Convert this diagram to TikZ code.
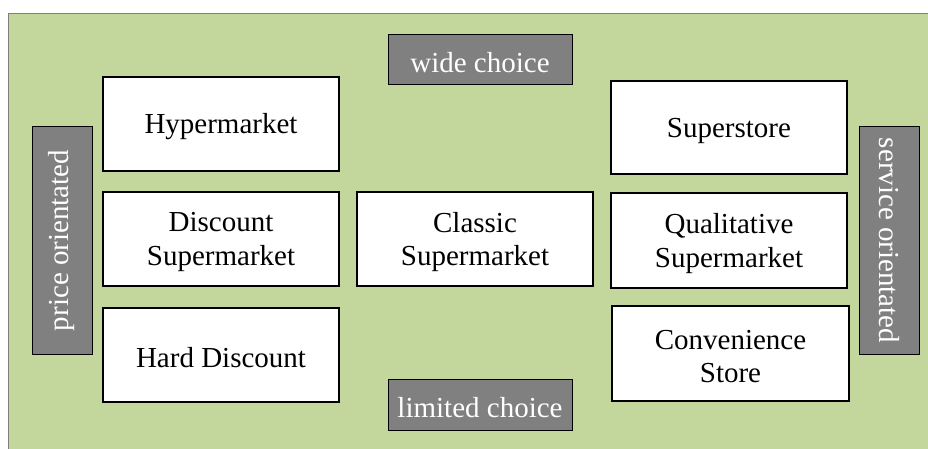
\documentclass[tikz,border=0pt]{standalone}
\usepackage{fontspec}
\setmainfont{Liberation Serif}
\definecolor{panelgreen}{HTML}{C3D69B}
\definecolor{labelgray}{HTML}{808080}
\definecolor{framegray}{HTML}{7F7F7F}
\tikzset{
  boxfont/.style={font=\fontsize{29}{33.5}\selectfont},
  % text sits a little below the geometric centre of each box
  boxtext/.style={boxfont, align=center, inner sep=0pt, yshift=-3pt},
  storebox/.style={draw=black, line width=1.8pt, fill=white, inner sep=0pt},
  axislabel/.style={draw=black, line width=1pt, fill=labelgray, inner sep=0pt,
    align=center, boxfont, text=white},
}
\begin{document}
\begin{tikzpicture}[x=1pt, y=-1pt]
  \useasboundingbox (0,0) rectangle (928,449);
  % background panel
  \fill[panelgreen] (8,13) rectangle (940,460);
  \draw[framegray, line width=0.8pt] (8,460) -- (8,13) -- (940,13);

  % store formats
  \node[storebox, minimum width=236, minimum height=94] (hyper) at (221,124) {};
  \node[storebox, minimum width=236, minimum height=94] (discsuper) at (221,239) {};
  \node[storebox, minimum width=236, minimum height=94] (hard) at (221,355) {};
  \node[storebox, minimum width=236, minimum height=94] (classic) at (475,239) {};
  \node[storebox, minimum width=236, minimum height=93] (superstore) at (729,127.5) {};
  \node[storebox, minimum width=236, minimum height=95] (quali) at (729,240.5) {};
  \node[storebox, minimum width=237, minimum height=95] (conv) at (730.5,353.5) {};

  \node[boxtext] (hypertext) at (hyper.center) {Hypermarket};
  \node[boxtext] (discsupertext) at (discsuper.center) {Discount\\Supermarket};
  \node[boxtext] (hardtext) at (hard.center) {Hard Discount};
  \node[boxtext] (classictext) at (classic.center) {Classic\\Supermarket};
  \node[boxtext] (superstoretext) at (superstore.center) {Superstore};
  \node[boxtext] (qualitext) at (quali.center) {Qualitative\\Supermarket};
  \node[boxtext] (convtext) at (conv.center) {Convenience\\Store};

  % axis labels
  \node[axislabel, minimum width=184, minimum height=50] (wide) at (480,59.5) {};
  \node[boxtext, text=white] (widetext) at (wide.center) {wide choice};
  \node[axislabel, minimum width=184, minimum height=51] (limited) at (480,404.5) {};
  \node[boxtext, text=white] (limitedtext) at (limited.center) {limited choice};
  \node[axislabel, rotate=90, minimum width=227, minimum height=60] (price) at (62,240.5) {price orientated};
  \node[axislabel, rotate=-90, minimum width=227, minimum height=60] (service) at (889.5,240.5) {service orientated};
\end{tikzpicture}
\end{document}
